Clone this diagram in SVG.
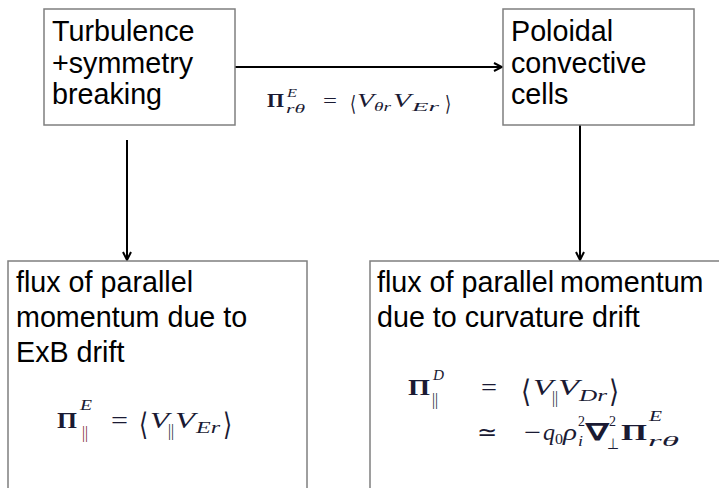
<svg xmlns="http://www.w3.org/2000/svg" width="719" height="488" viewBox="0 0 719 488">
<defs>
<style>
.box{fill:#fff;stroke:#7f7f7f;stroke-width:1.5}
.lbl{font-family:"Liberation Sans",Arial,sans-serif;font-size:28.7px;fill:#000}
.m{font-family:"Liberation Serif","Times New Roman",serif;fill:#1a1a33}
.it{font-style:italic}
.bf{font-weight:bold}
.con{stroke:#000;stroke-width:2;fill:none}
.red{fill:#7a1630}
</style>
<marker id="ah" viewBox="0 0 10 10" refX="9" refY="5" markerWidth="10" markerHeight="10" markerUnits="userSpaceOnUse" orient="auto">
<path d="M1,1 L9,5 L1,9" fill="none" stroke="#000" stroke-width="2"/>
</marker>
</defs>
<rect width="719" height="488" fill="#fff"/>

<g id="connectors">
<line class="con" x1="235" y1="67" x2="502" y2="67" marker-end="url(#ah)"/>
<line class="con" x1="127" y1="140" x2="127" y2="260" marker-end="url(#ah)"/>
<line class="con" x1="580" y1="125" x2="580" y2="260" marker-end="url(#ah)"/>
<g id="edge-label">
<text class="m bf" x="267" y="107" font-size="18" textLength="17" lengthAdjust="spacingAndGlyphs">Π</text>
<text class="m it" x="287" y="97" font-size="13" textLength="10" lengthAdjust="spacingAndGlyphs">E</text>
<text class="m it" x="286" y="113" font-size="13" textLength="19" lengthAdjust="spacingAndGlyphs">rθ</text>
<text class="m" x="323" y="107" font-size="18" textLength="14" lengthAdjust="spacingAndGlyphs">=</text>
<text class="m" x="350" y="111" font-size="21" textLength="6" lengthAdjust="spacingAndGlyphs">⟨</text>
<text class="m it" x="357" y="107" font-size="18" textLength="17" lengthAdjust="spacingAndGlyphs">V</text>
<text class="m it" x="374" y="111" font-size="13" textLength="17" lengthAdjust="spacingAndGlyphs">θr</text>
<text class="m it" x="393" y="107" font-size="18" textLength="18" lengthAdjust="spacingAndGlyphs">V</text>
<text class="m it" x="412" y="111" font-size="13" textLength="27" lengthAdjust="spacingAndGlyphs">Er</text>
<text class="m" x="445" y="111" font-size="21" textLength="6" lengthAdjust="spacingAndGlyphs">⟩</text>
</g>
</g>

<g id="node-turbulence">
<rect class="box" x="44" y="9" width="191" height="116"/>
<text class="lbl" x="52" y="41">Turbulence</text>
<text class="lbl" x="52" y="73">+symmetry</text>
<text class="lbl" x="52" y="104">breaking</text>
</g>

<g id="node-poloidal">
<rect class="box" x="503" y="9" width="191" height="116"/>
<text class="lbl" x="511" y="41">Poloidal</text>
<text class="lbl" x="511" y="73">convective</text>
<text class="lbl" x="511" y="104">cells</text>
</g>

<g id="node-exb">
<rect class="box" x="8" y="261" width="299" height="240"/>
<text class="lbl" x="16" y="292">flux of parallel</text>
<text class="lbl" x="16" y="327">momentum due to</text>
<text class="lbl" x="16" y="362">ExB drift</text>
<text class="m bf" x="57" y="428" font-size="23" textLength="20" lengthAdjust="spacingAndGlyphs">Π</text>
<text class="m it" x="80" y="410" font-size="15" textLength="12" lengthAdjust="spacingAndGlyphs">E</text>
<text class="m red" x="82" y="438" font-size="16" textLength="6" lengthAdjust="spacingAndGlyphs">||</text>
<text class="m" x="111" y="428" font-size="23" textLength="17" lengthAdjust="spacingAndGlyphs">=</text>
<text class="m" x="139" y="435" font-size="31" textLength="9" lengthAdjust="spacingAndGlyphs">⟨</text>
<text class="m it" x="150" y="428" font-size="23" textLength="19" lengthAdjust="spacingAndGlyphs">V</text>
<text class="m" x="168" y="436" font-size="16" textLength="6" lengthAdjust="spacingAndGlyphs">||</text>
<text class="m it" x="175" y="428" font-size="23" textLength="20" lengthAdjust="spacingAndGlyphs">V</text>
<text class="m it" x="196" y="433" font-size="16" textLength="24" lengthAdjust="spacingAndGlyphs">Er</text>
<text class="m" x="223" y="435" font-size="31" textLength="9" lengthAdjust="spacingAndGlyphs">⟩</text>
</g>

<g id="node-curvature">
<rect class="box" x="370" y="261" width="360" height="240"/>
<text class="lbl" x="377" y="292">flux of parallel</text>
<text class="lbl" x="560" y="292">momentum</text>
<text class="lbl" x="377" y="327">due to curvature</text>
<text class="lbl" x="592" y="327">drift</text>
<text class="m bf" x="408" y="395" font-size="23" textLength="22" lengthAdjust="spacingAndGlyphs">Π</text>
<text class="m it" x="433" y="380" font-size="15" textLength="11" lengthAdjust="spacingAndGlyphs">D</text>
<text class="m" x="432" y="405" font-size="16" textLength="6" lengthAdjust="spacingAndGlyphs">||</text>
<text class="m" x="481" y="395" font-size="23" textLength="16" lengthAdjust="spacingAndGlyphs">=</text>
<text class="m" x="521" y="402" font-size="31" textLength="10" lengthAdjust="spacingAndGlyphs">⟨</text>
<text class="m it" x="533" y="395" font-size="23" textLength="20" lengthAdjust="spacingAndGlyphs">V</text>
<text class="m" x="552" y="403" font-size="16" textLength="6" lengthAdjust="spacingAndGlyphs">||</text>
<text class="m it" x="558" y="395" font-size="23" textLength="21" lengthAdjust="spacingAndGlyphs">V</text>
<text class="m it" x="579" y="401" font-size="16" textLength="28" lengthAdjust="spacingAndGlyphs">Dr</text>
<text class="m" x="609" y="402" font-size="31" textLength="10" lengthAdjust="spacingAndGlyphs">⟩</text>
<text class="m" x="477" y="440" font-size="23" textLength="20" lengthAdjust="spacingAndGlyphs">≃</text>
<text class="m" x="524" y="440" font-size="23" textLength="17" lengthAdjust="spacingAndGlyphs">−</text>
<text class="m it" x="543" y="440" font-size="23" textLength="12" lengthAdjust="spacingAndGlyphs">q</text>
<text class="m" x="555" y="444" font-size="15" textLength="8" lengthAdjust="spacingAndGlyphs">0</text>
<text class="m it" x="563" y="440" font-size="23" textLength="14" lengthAdjust="spacingAndGlyphs">ρ</text>
<text class="m" x="578" y="426" font-size="15" textLength="7" lengthAdjust="spacingAndGlyphs">2</text>
<text class="m it" x="578" y="446" font-size="15" textLength="5" lengthAdjust="spacingAndGlyphs">i</text>
<text class="m bf" x="586" y="440" font-size="23" textLength="22" lengthAdjust="spacingAndGlyphs">∇</text>
<text class="m" x="609" y="426" font-size="15" textLength="7" lengthAdjust="spacingAndGlyphs">2</text>
<text class="m" x="607" y="449" font-size="15" textLength="12" lengthAdjust="spacingAndGlyphs">⊥</text>
<text class="m bf" x="621" y="440" font-size="23" textLength="26" lengthAdjust="spacingAndGlyphs">Π</text>
<text class="m it" x="649" y="421" font-size="15" textLength="13" lengthAdjust="spacingAndGlyphs">E</text>
<text class="m it" x="648" y="446" font-size="15" textLength="31" lengthAdjust="spacingAndGlyphs">rθ</text>
</g>
</svg>
